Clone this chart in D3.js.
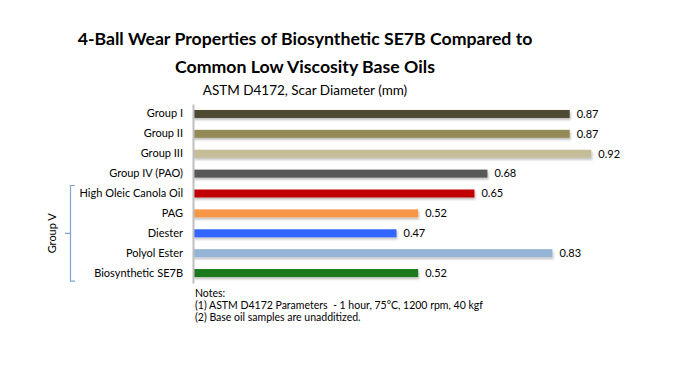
<!DOCTYPE html>
<html>
<head>
<meta charset="utf-8">
<script src="https://cdn.jsdelivr.net/npm/d3@7"></script>
<style>
  body { margin: 0; background: #fff; }
  text { font-family: Lato, "Open Sans", sans-serif; fill: #000; }
</style>
</head>
<body>
<svg id="chart" width="690" height="375"></svg>
<script>
// Data
const categories = ["Group I", "Group II", "Group III", "Group IV (PAO)", "High Oleic Canola Oil",
    "PAG", "Diester", "Polyol Ester", "Biosynthetic SE7B"];
const scarDiameter = [0.87, 0.87, 0.92, 0.68, 0.65, 0.52, 0.47, 0.83, 0.52];
const barColors = ["#4d4a33", "#948a57", "#c4bd97", "#595959", "#c00000", "#f79646", "#3366ff", "#95b3d7", "#1a7a1a"];
const groupVMembers = ["High Oleic Canola Oil", "PAG", "Diester", "Polyol Ester", "Biosynthetic SE7B"];
const titleLines = ["4-Ball Wear Properties of Biosynthetic SE7B Compared to", "Common Low Viscosity Base Oils"];
const subtitle = "ASTM D4172, Scar Diameter (mm)";
const notes = ["Notes:", "(1) ASTM D4172 Parameters  - 1 hour, 75\u00B0C, 1200 rpm, 40 kgf", "(2) Base oil samples are unadditized."];

const data = categories.map((c, i) => ({ name: c, value: scarDiameter[i], color: barColors[i] }));

const svg = d3.select("#chart");

// Scales
const x = d3.scaleLinear().domain([0, 1]).range([193, 626]);
const y = d3.scaleBand().domain(categories).range([104, 283]).paddingInner(0.6).paddingOuter(0.3);

// Title
svg.selectAll(".title")
    .data(titleLines)
    .enter().append("text")
    .attr("class", "title")
    .attr("x", 305)
    .attr("y", (d, i) => 45 + i * 28)
    .attr("text-anchor", "middle")
    .style("font-size", "17.7px")
    .style("font-weight", "bold")
    .text(d => d);

svg.append("text")
    .attr("x", 305)
    .attr("y", 95)
    .attr("text-anchor", "middle")
    .style("font-size", "13.5px")
    .text(subtitle);

// Bar shadows
const defs = svg.append("defs");
const filter = defs.append("filter").attr("id", "shadow").attr("x", "-5%").attr("y", "-50%").attr("width", "110%").attr("height", "250%");
filter.append("feDropShadow").attr("dx", 1).attr("dy", 2).attr("stdDeviation", 1).attr("flood-color", "#000").attr("flood-opacity", 0.25);

svg.selectAll(".bar")
    .data(data)
    .enter().append("rect")
    .attr("class", "bar")
    .attr("x", x(0))
    .attr("y", d => y(d.name) + y.bandwidth() / 2 - 4)
    .attr("width", d => x(d.value) - x(0))
    .attr("height", 8)
    .attr("filter", "url(#shadow)")
    .style("fill", d => d.color);

// Value labels
svg.selectAll(".value")
    .data(data)
    .enter().append("text")
    .attr("class", "value")
    .attr("x", d => x(d.value) + 7)
    .attr("y", d => y(d.name) + y.bandwidth() / 2)
    .attr("dy", "0.35em")
    .style("font-size", "11px")
    .text(d => d.value.toFixed(2));

// Category axis
const axis = svg.append("g")
    .attr("transform", `translate(${x(0)},0)`)
    .call(d3.axisLeft(y).tickSize(0).tickPadding(10));
axis.select(".domain").attr("stroke", "#bfbfbf").attr("stroke-width", 2);
axis.selectAll("text").style("font-size", "11px").style("font-family", "Lato, 'Open Sans', sans-serif");

// Group V bracket
const bracketTop = y(groupVMembers[0]) - 4;
const bracketBottom = y(groupVMembers[groupVMembers.length - 1]) + y.bandwidth() + 4;
const bracketMid = (bracketTop + bracketBottom) / 2;
svg.append("path")
    .attr("d", `M75,${bracketTop} H70.5 V${bracketBottom} H75 M70.5,${bracketMid} H65`)
    .attr("fill", "none")
    .attr("stroke", "#7fa5d0")
    .attr("stroke-width", 1.2);

svg.append("text")
    .attr("transform", `translate(56,${bracketMid}) rotate(-90)`)
    .attr("text-anchor", "middle")
    .style("font-size", "11px")
    .text("Group V");

// Notes
svg.selectAll(".note")
    .data(notes)
    .enter().append("text")
    .attr("class", "note")
    .attr("x", 195)
    .attr("y", (d, i) => 297 + i * 12)
    .style("font-size", "10.5px")
    .style("white-space", "pre")
    .text(d => d);
</script>
</body>
</html>
